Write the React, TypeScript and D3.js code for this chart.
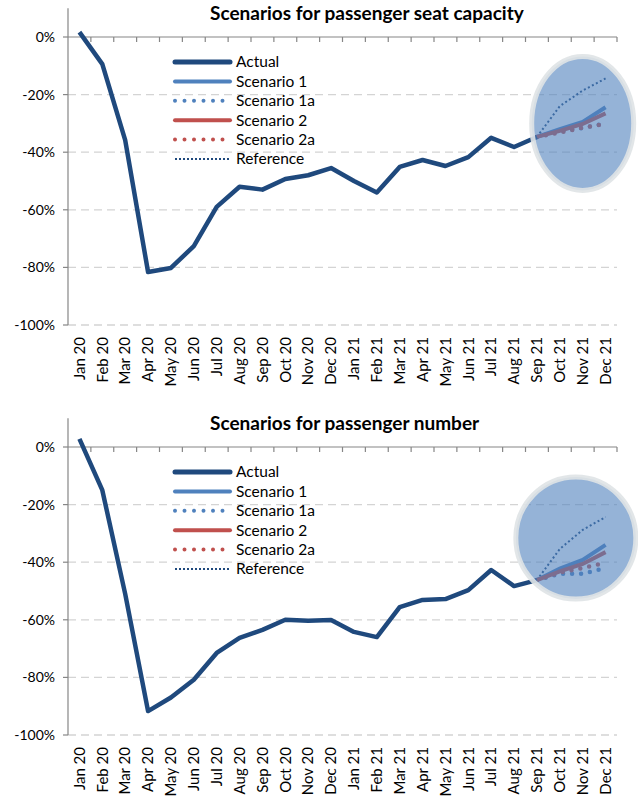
import * as d3 from 'd3';

const months = [
  'Jan 20', 'Feb 20', 'Mar 20', 'Apr 20', 'May 20', 'Jun 20', 'Jul 20', 'Aug 20',
  'Sep 20', 'Oct 20', 'Nov 20', 'Dec 20', 'Jan 21', 'Feb 21', 'Mar 21', 'Apr 21',
  'May 21', 'Jun 21', 'Jul 21', 'Aug 21', 'Sep 21', 'Oct 21', 'Nov 21', 'Dec 21',
];
const scenarioMonths = ['Sep 21', 'Oct 21', 'Nov 21', 'Dec 21'];
const yTicks = [0, -20, -40, -60, -80, -100];

// seat capacity, % vs 2019
const seatActual = [1.7, -9.4, -35.8, -81.6, -80.2, -72.6, -59, -52, -53, -49.3, -48, -45.5,
  -50, -54, -45.1, -42.7, -44.8, -41.7, -35, -38.2, -34.7];
const seatScen1 = [-34.7, -32, -29.5, -24.4];
const seatScen1a = [-34.7, -32.8, -31.6, -30];
const seatScen2 = [-34.7, -32.6, -30.2, -26.5];
const seatScen2a = [-34.7, -33.2, -31.5, -30.2];
const seatRef = [-34.7, -24, -18.6, -14.4];

// passenger number, % vs 2019
const paxActual = [2.8, -15, -51, -91.7, -87, -80.8, -71.5, -66.3, -63.5, -60, -60.3, -60.1,
  -64.2, -66, -55.6, -53.1, -52.8, -49.7, -42.7, -48.3, -46.2];
const paxScen1 = [-46.2, -42.2, -39.2, -34];
const paxScen1a = [-46.2, -44, -44, -42];
const paxScen2 = [-46.2, -43.2, -40.6, -36.5];
const paxScen2a = [-46.2, -43.6, -42, -40.2];
const paxRef = [-46.2, -35.4, -28.8, -24.3];

const NAVY = '#1f497d';
const BLUE = '#4f81bd';
const RED = '#c0504d';
const FONT = 'Lato, "Liberation Sans", sans-serif';

type Series = { name: string; values: number[]; color: string; width: number; dash?: string; round?: boolean };

interface PanelProps {
  title: string;
  top: number;
  actual: number[];
  scen1: number[];
  scen1a: number[];
  scen2: number[];
  scen2a: number[];
  reference: number[];
  blob: { month: string; shift: number; value: number; rx: number; ry: number };
}

const Panel = ({ title, top, actual, scen1, scen1a, scen2, scen2a, reference, blob }: PanelProps) => {
  const x = d3.scaleBand<string>().domain(months).range([68, 617]);
  const y = d3.scaleLinear().domain([-100, 10]).range([top + 317, top + 0.2]);
  const cx = (m: string) => (x(m) || 0) + x.bandwidth() / 2;

  const line = d3.line<[string, number]>()
    .x(d => cx(d[0]))
    .y(d => y(d[1]));

  const scen: Series[] = [
    { name: 'Reference', values: reference, color: NAVY, width: 2, dash: '2 2.5' },
    { name: 'Scenario 1a', values: scen1a, color: BLUE, width: 4.5, dash: '0 9', round: true },
    { name: 'Scenario 2a', values: scen2a, color: RED, width: 4.5, dash: '0 9', round: true },
    { name: 'Scenario 1', values: scen1, color: BLUE, width: 4 },
    { name: 'Scenario 2', values: scen2, color: RED, width: 4 },
  ];

  const legend: Series[] = [
    { name: 'Actual', values: [], color: NAVY, width: 5, round: true },
    { name: 'Scenario 1', values: [], color: BLUE, width: 4, round: true },
    { name: 'Scenario 1a', values: [], color: BLUE, width: 4, dash: '0 9.5', round: true },
    { name: 'Scenario 2', values: [], color: RED, width: 4, round: true },
    { name: 'Scenario 2a', values: [], color: RED, width: 4, dash: '0 9.5', round: true },
    { name: 'Reference', values: [], color: NAVY, width: 2, dash: '2 2' },
  ];

  const y0 = y(0);
  const bx = cx(blob.month) + blob.shift * x.bandwidth();
  const by = y(blob.value);

  return (
    <g>
      <text x={210} y={top + 12} fontFamily={FONT} fontWeight="bold" fontSize={19} fill="#000">{title}</text>

      {/* grid */}
      {yTicks.filter(t => t !== 0).map(t => (
        <line key={t} x1={68} x2={617} y1={y(t)} y2={y(t)} stroke="#d4d4d4" strokeWidth={1.3} strokeDasharray="8 5" />
      ))}

      {/* y axis */}
      <line x1={68} x2={68} y1={y(10)} y2={y(-100)} stroke="#868686" strokeWidth={1.2} />
      {yTicks.map(t => (
        <g key={t}>
          <line x1={63} x2={68} y1={y(t)} y2={y(t)} stroke="#868686" strokeWidth={1.2} />
          <text x={55} y={y(t)} dy="0.35em" textAnchor="end" fontFamily={FONT} fontSize={14} fill="#000">{t}%</text>
        </g>
      ))}

      {/* x axis at 0% */}
      <line x1={68} x2={617} y1={y0} y2={y0} stroke="#868686" strokeWidth={1.2} />
      {months.map(m => (
        <line key={m} x1={(x(m) || 0) + x.bandwidth()} x2={(x(m) || 0) + x.bandwidth()} y1={y0} y2={y0 + 5} stroke="#868686" strokeWidth={1.2} />
      ))}
      {months.map(m => (
        <text key={m} transform={`translate(${cx(m)},${y(-100) + 12}) rotate(-90)`} dy="0.35em" textAnchor="end"
          fontFamily={FONT} fontSize={15} fill="#000">{m}</text>
      ))}

      {/* scenarios */}
      {scen.map(s => (
        <path key={s.name} d={line(scenarioMonths.map((m, i) => [m, s.values[i]] as [string, number])) || ''}
          fill="none" stroke={s.color} strokeWidth={s.width} strokeDasharray={s.dash}
          strokeLinecap={s.round ? 'round' : 'butt'} />
      ))}

      {/* actual */}
      <path d={line(actual.map((v, i) => [months[i], v] as [string, number])) || ''}
        fill="none" stroke={NAVY} strokeWidth={4.5} strokeLinejoin="round" />

      {/* highlight blob */}
      <ellipse cx={bx} cy={by} rx={blob.rx} ry={blob.ry} fill="#4f81bd" fillOpacity={0.6}
        stroke="#dfe3e6" strokeOpacity={0.9} strokeWidth={5} />

      {/* legend */}
      {legend.map((s, i) => {
        const ly = top + 54 + i * 19.4;
        return (
          <g key={s.name}>
            <line x1={175} x2={230} y1={ly} y2={ly} stroke={s.color} strokeWidth={s.width}
              strokeDasharray={s.dash} strokeLinecap={s.round ? 'round' : 'butt'} />
            <text x={236} y={ly} dy="0.35em" fontFamily={FONT} fontSize={15.5} fill="#000">{s.name}</text>
          </g>
        );
      })}
    </g>
  );
};

export default function App() {
  return (
    <svg width={638} height={797} style={{ position: 'absolute', left: 0, top: 0, background: '#fff' }}>
      <Panel title="Scenarios for passenger seat capacity" top={8}
        actual={seatActual} scen1={seatScen1} scen1a={seatScen1a} scen2={seatScen2} scen2a={seatScen2a}
        reference={seatRef} blob={{ month: 'Nov 21', shift: 0, value: -30, rx: 51, ry: 67 }} />
      <Panel title="Scenarios for passenger number" top={418}
        actual={paxActual} scen1={paxScen1} scen1a={paxScen1a} scen2={paxScen2} scen2a={paxScen2a}
        reference={paxRef} blob={{ month: 'Oct 21', shift: 0.7, value: -31.6, rx: 60, ry: 61 }} />
    </svg>
  );
}
